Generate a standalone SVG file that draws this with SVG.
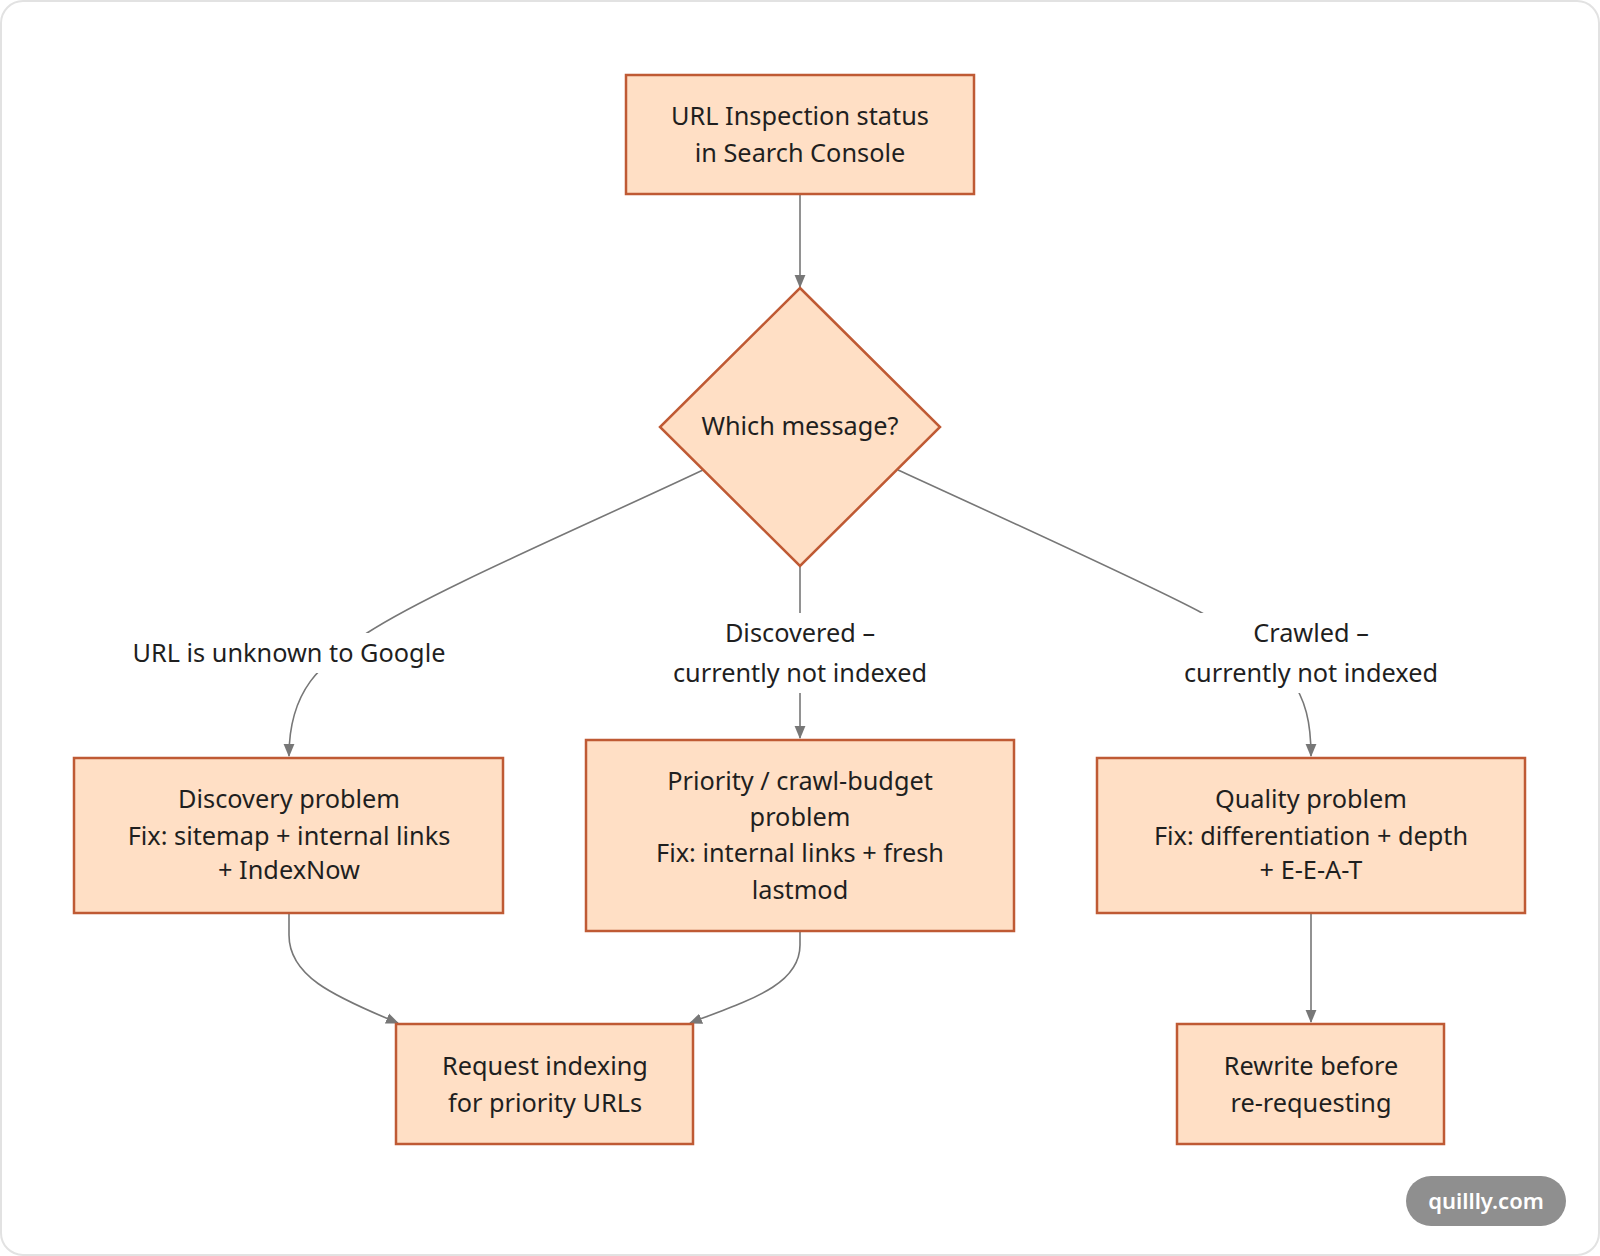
<svg xmlns="http://www.w3.org/2000/svg" width="1600" height="1256" viewBox="0 0 1600 1256">
<style>
.node{fill:#ffdfc5;stroke:#bf5a34;stroke-width:2.5}
.t{font-family:"Noto Sans","Open Sans","Liberation Sans",sans-serif;font-size:25.3px;fill:#1f1f1f;text-anchor:middle}
.edge{fill:none;stroke:#777;stroke-width:1.6}
.lbg{fill:#fff}
</style>
<defs>
<marker id="arr" viewBox="0 0 12 12" refX="11" refY="6" markerWidth="13" markerHeight="13" markerUnits="userSpaceOnUse" orient="auto">
<path d="M0,1 L12,6 L0,11 Z" fill="#777"/>
</marker>
</defs>
<rect x="1" y="1" width="1598" height="1254" rx="22" fill="#fff" stroke="#e2e2e2" stroke-width="2"/>
<g id="connectors">
<path class="edge" d="M800,194 L800,287" marker-end="url(#arr)"/>
<path class="edge" d="M703,470 C580,528 430,592 367,633 C320,664 289,690 289,756" marker-end="url(#arr)"/>
<path class="edge" d="M800,566 L800,738" marker-end="url(#arr)"/>
<path class="edge" d="M898,470 C1020,526 1150,585 1202,613 C1290,660 1311,690 1311,756" marker-end="url(#arr)"/>
<path class="edge" d="M289,913 L289,935 C289,975 330,995 398,1023" marker-end="url(#arr)"/>
<path class="edge" d="M800,931 L800,945 C800,985 750,1000 690,1023" marker-end="url(#arr)"/>
<path class="edge" d="M1311,913 L1311,1022" marker-end="url(#arr)"/>
</g>
<g id="edge-labels">
<g id="label-unknown"><rect class="lbg" x="133" y="633" width="312" height="40"/><text class="t" x="289" y="662">URL is unknown to Google</text></g>
<g id="label-discovered"><rect class="lbg" x="672" y="613" width="256" height="80"/><text class="t" x="800" y="642">Discovered –</text><text class="t" x="800" y="682">currently not indexed</text></g>
<g id="label-crawled"><rect class="lbg" x="1183" y="613" width="256" height="80"/><text class="t" x="1311" y="642">Crawled –</text><text class="t" x="1311" y="682">currently not indexed</text></g>
</g>
<g id="node-start"><rect class="node" x="626" y="75" width="348" height="119"/><text class="t" x="800" y="125">URL Inspection status</text><text class="t" x="800" y="162">in Search Console</text></g>
<g id="node-decision"><polygon class="node" points="800,288 940,427 800,566 660,427"/><text class="t" x="800" y="435">Which message?</text></g>
<g id="node-discovery"><rect class="node" x="74" y="758" width="429" height="155"/><text class="t" x="289" y="808">Discovery problem</text><text class="t" x="289" y="845">Fix: sitemap + internal links</text><text class="t" x="289" y="879">+ IndexNow</text></g>
<g id="node-priority"><rect class="node" x="586" y="740" width="428" height="191"/><text class="t" x="800" y="790">Priority / crawl-budget</text><text class="t" x="800" y="826">problem</text><text class="t" x="800" y="862">Fix: internal links + fresh</text><text class="t" x="800" y="899">lastmod</text></g>
<g id="node-quality"><rect class="node" x="1097" y="758" width="428" height="155"/><text class="t" x="1311" y="808">Quality problem</text><text class="t" x="1311" y="845">Fix: differentiation + depth</text><text class="t" x="1311" y="879">+ E-E-A-T</text></g>
<g id="node-request"><rect class="node" x="396" y="1024" width="297" height="120"/><text class="t" x="545" y="1075">Request indexing</text><text class="t" x="545" y="1112">for priority URLs</text></g>
<g id="node-rewrite"><rect class="node" x="1177" y="1024" width="267" height="120"/><text class="t" x="1311" y="1075">Rewrite before</text><text class="t" x="1311" y="1112">re-requesting</text></g>
<g id="badge"><rect x="1406" y="1176" width="160" height="50" rx="25" fill="#8f8f8f"/><text x="1486" y="1209" font-family="'Noto Sans','Open Sans',sans-serif" font-size="22" font-weight="600" fill="#fff" text-anchor="middle">quillly.com</text></g>
</svg>
